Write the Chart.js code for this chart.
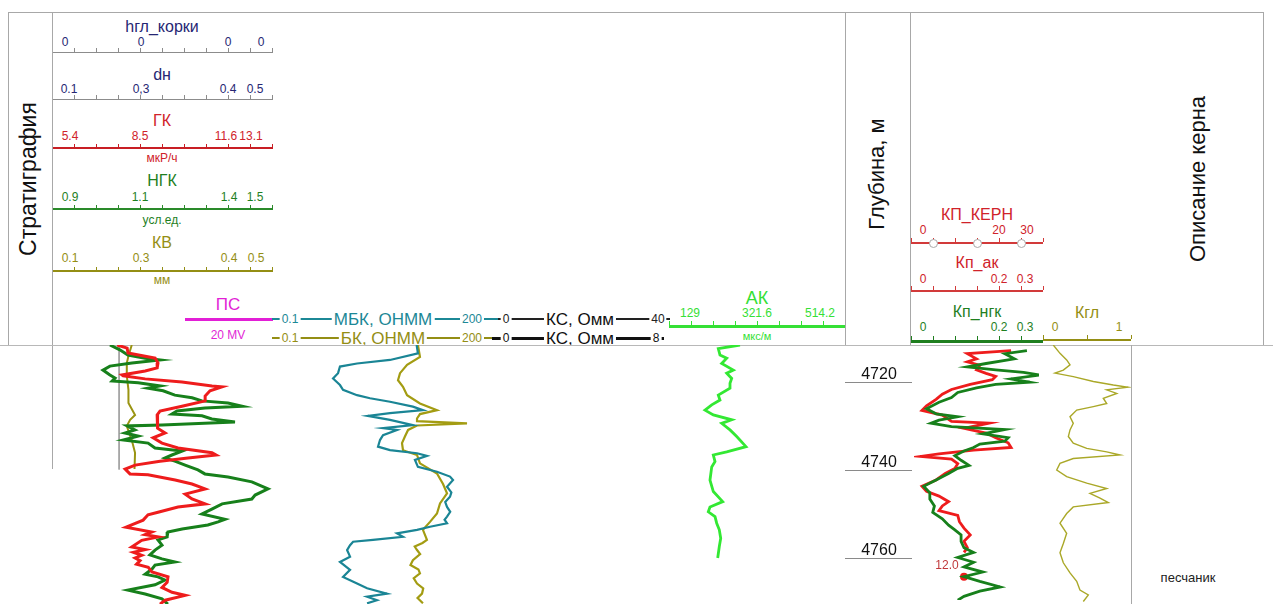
<!DOCTYPE html>
<html><head><meta charset="utf-8">
<script src="https://cdn.jsdelivr.net/npm/chart.js@4.4.1/dist/chart.umd.min.js"></script>
<style>
html,body{margin:0;padding:0;background:#fff;}
#root{position:relative;width:1273px;height:604px;overflow:hidden;font-family:"Liberation Sans",Arial,sans-serif;}
.t{position:absolute;white-space:nowrap;line-height:1;transform:translate(-50%,-50%);}
.l{position:absolute;}
canvas{position:absolute;}
</style></head><body><div id="root"></div>
<script>
// ---------------- DATA ----------------
const depthTicks = [4720, 4740, 4760];
const depthRange = [4711.5, 4770.36];

const hglLabels = ['0', '0', '0', '0'];
const dnLabels = ['0.1', '0,3', '0.4', '0.5'];
const gkLabels = ['5.4', '8.5', '11.6', '13.1'];
const ngkLabels = ['0.9', '1.1', '1.4', '1.5'];
const kvLabels = ['0.1', '0.3', '0.4', '0.5'];
const akLabels = ['129', '321.6', '514.2'];
const kernLabels = ['0', '20', '30'];
const kpLabels = ['0', '0.2', '0.3'];
const kglLabels = ['0', '1'];

const gkRange = [5.4, 13.1];
const ngkRange = [0.9, 1.5];
const kvRange = [0.1, 0.5];
const bkRange = [0.1, 200];
const akRange = [129, 514.2];
const kpRange = [0, 0.3];
const kernRange = [0, 30];
const kglRange = [0, 1];

const gkDepth = [4711.5,4712.2,4713.3,4714.5,4715.6,4716.7,4717.4,4718.3,4718.5,4719.2,4719.9,4720.8,4721.0,4721.9,4723.1,4724.2,4725.4,4726.5,4727.4,4729.2,4730.4,4731.5,4732.6,4733.8,4734.9,4736.0,4736.5,4737.2,4737.9,4738.8,4739.7,4740.8,4741.0,4742.2,4743.1,4744.2,4745.4,4746.5,4747.6,4748.3,4749.5,4750.1,4751.3,4752.9,4754.0,4754.6,4755.1,4755.9,4757.4,4758.0,4758.6,4759.3,4759.9,4760.5,4761.3,4762.0,4763.1,4764.2,4765.4,4766.6,4767.7,4768.4,4769.5,4770.4];
const gkValues = [7.68,8.03,8.06,9.01,9.11,9.08,8.66,7.85,7.89,8.66,9.95,11.0,11.35,10.93,10.76,10.76,9.95,9.18,9.08,9.11,9.08,9.36,8.94,9.25,9.81,11.0,11.14,10.16,9.18,8.31,7.96,8.13,8.76,9.71,10.30,10.76,10.06,10.30,10.76,9.81,9.11,8.76,8.59,7.99,8.89,8.66,9.12,8.54,8.19,8.66,8.25,8.54,8.31,8.48,8.36,8.77,8.90,9.46,9.43,9.25,9.60,10.06,9.36,9.18];

const ngkDepth = [4711.5,4712.6,4713.8,4714.5,4714.9,4715.6,4716.3,4717.2,4718.3,4719.0,4719.7,4720.1,4720.8,4721.3,4721.9,4722.9,4723.5,4724.2,4724.7,4725.4,4725.8,4726.5,4727.2,4727.6,4728.3,4729.0,4729.7,4729.9,4730.8,4731.5,4732.2,4733.1,4733.8,4734.9,4735.6,4736.5,4737.2,4737.9,4738.8,4739.9,4740.8,4741.5,4742.6,4744.2,4745.6,4746.5,4747.6,4748.8,4749.9,4751.1,4751.7,4752.4,4753.3,4754.0,4755.1,4755.8,4757.0,4758.1,4759.2,4760.1,4760.8,4761.5,4762.4,4763.6,4764.2,4764.9,4766.0,4767.2,4768.1,4769.2,4770.4];
const ngkValues = [1.058,1.085,1.107,1.154,1.195,1.118,1.058,1.039,1.058,1.072,1.064,1.135,1.195,1.162,1.203,1.235,1.282,1.309,1.380,1.418,1.317,1.241,1.227,1.309,1.336,1.399,1.200,1.105,1.126,1.099,1.135,1.094,1.162,1.181,1.255,1.227,1.208,1.235,1.263,1.298,1.317,1.380,1.445,1.489,1.454,1.445,1.364,1.336,1.309,1.372,1.353,1.325,1.255,1.216,1.214,1.189,1.200,1.181,1.167,1.200,1.235,1.181,1.173,1.154,1.189,1.208,1.181,1.107,1.154,1.200,1.216];

const kvDepth = [4711.5,4714.0,4715.6,4718.5,4721.7,4724.7,4727.4,4728.5,4729.9,4733.1,4736.0,4739.7];
const kvValues = [0.245,0.239,0.236,0.236,0.239,0.239,0.251,0.242,0.236,0.245,0.251,0.250];

const dnDepth = [4711.5, 4739.8];
const dnValues = [0.222, 0.222];

const mbkDepth = [4711.5,4713.4,4714.9,4715.7,4716.4,4717.9,4719.1,4720.6,4721.7,4722.9,4723.6,4724.4,4725.5,4726.3,4727.0,4727.6,4728.5,4729.7,4730.4,4730.8,4732.0,4733.1,4734.6,4735.4,4736.1,4736.7,4737.6,4739.2,4740.3,4741.4,4742.2,4743.7,4745.0,4746.0,4747.2,4748.3,4749.4,4750.5,4751.2,4752.0,4752.8,4753.5,4754.3,4755.1,4755.8,4756.2,4757.0,4758.1,4759.6,4760.8,4762.6,4764.2,4765.7,4766.8,4768.0,4768.7,4769.5,4770.2];
const mbkValues = [15.5,16.2,6.12,1.94,1.07,1.00,0.84,1.07,1.19,1.94,3.05,6.12,13.6,19.3,6.12,2.84,6.12,13.6,4.80,7.81,4.80,4.32,4.03,6.12,15.7,22.2,14.6,16.2,31.5,49.6,55.1,44.7,52.0,49.6,42.0,44.7,50.0,44.7,41.0,44.7,24.7,15.7,7.81,9.63,3.38,1.69,1.52,1.37,1.52,1.07,1.52,1.19,1.94,2.75,5.51,2.75,3.89,2.75];

const bkDepth = [4711.5,4714.2,4716.0,4717.9,4719.5,4721.0,4722.9,4724.8,4726.3,4727.2,4728.2,4728.8,4729.3,4729.8,4730.8,4732.3,4733.8,4735.4,4736.5,4738.4,4740.7,4743.1,4745.2,4747.5,4749.8,4751.7,4753.5,4755.8,4756.5,4757.3,4758.1,4759.0,4760.4,4761.5,4762.5,4763.4,4764.5,4765.7,4766.8,4768.0,4769.0,4770.2];
const bkValues = [16.2,17.4,11.1,8.68,8.09,9.63,11.1,17.4,31.5,17.4,15.7,15.7,89.7,15.7,11.5,10.3,9.30,9.63,15.7,17.4,31.5,38.9,44.7,35.0,31.5,24.7,19.3,22.2,19.0,14.5,15.7,17.5,13.6,12.5,16.5,17.4,14.0,15.7,19.5,18.7,16.0,19.3];

const akDepth = [4711.5,4712.3,4713.8,4714.5,4715.7,4717.2,4717.9,4719.1,4720.2,4721.3,4722.9,4724.0,4725.1,4726.3,4727.4,4728.5,4729.3,4730.8,4732.3,4734.6,4735.8,4736.5,4738.0,4739.2,4742.2,4744.8,4747.1,4748.3,4749.4,4750.5,4752.0,4753.5,4755.4,4757.3,4759.9];
const akValues = [284.4,236.9,240.6,255.3,244.3,269.7,255.3,266.2,262.5,262.5,236.9,240.6,222.5,207.8,226.0,266.2,244.3,262.5,277.2,297.5,255.3,226.0,229.7,222.5,218.7,226.0,246.5,218.7,215.0,229.7,233.4,239.1,242.2,239.1,235.6];

const kpNgkDepth = [4711.9,4712.6,4713.8,4714.9,4715.7,4716.4,4717.0,4717.6,4718.5,4719.3,4719.8,4720.6,4721.7,4722.9,4724.0,4725.5,4726.7,4727.4,4728.2,4728.9,4729.7,4730.4,4731.4,4732.3,4733.1,4733.8,4734.6,4735.4,4736.5,4737.6,4738.8,4739.5,4740.7,4742.2,4743.7,4745.2,4746.7,4748.3,4749.8,4751.3,4752.8,4753.9,4755.1,4756.6,4758.1,4759.2,4760.4,4761.5,4762.6,4763.8,4764.9,4766.0,4767.3,4768.3,4769.5,4770.4];
const kpNgkValues = [0.271,0.218,0.241,0.173,0.128,0.196,0.263,0.301,0.233,0.278,0.196,0.150,0.105,0.090,0.060,0.030,0.053,0.105,0.060,0.041,0.090,0.218,0.165,0.226,0.218,0.158,0.143,0.120,0.098,0.113,0.132,0.105,0.083,0.053,0.023,0.038,0.038,0.049,0.045,0.068,0.083,0.098,0.113,0.113,0.120,0.143,0.105,0.143,0.120,0.165,0.120,0.158,0.207,0.158,0.120,0.105];

const kpAkDepth = [4711.9,4712.6,4713.8,4714.5,4715.3,4716.4,4717.2,4717.9,4718.7,4719.8,4721.0,4722.1,4723.3,4724.8,4725.9,4727.0,4728.5,4728.9,4730.1,4731.2,4732.3,4733.5,4734.6,4735.2,4736.1,4736.7,4737.3,4738.4,4739.5,4740.7,4742.2,4743.7,4744.9,4746.0,4747.3,4748.3,4749.4,4750.5,4752.0,4753.5,4755.1,4756.6,4758.1,4759.2];
const kpAkValues = [0.233,0.128,0.150,0.128,0.158,0.150,0.173,0.196,0.188,0.135,0.090,0.068,0.053,0.030,0.019,0.068,0.090,0.180,0.120,0.173,0.196,0.226,0.233,0.143,0.060,0.015,0.090,0.105,0.098,0.075,0.053,0.019,0.030,0.060,0.083,0.068,0.060,0.105,0.109,0.120,0.135,0.120,0.128,0.120];

const kernDepth = [4764.9];
const kernValues = [12.0];

const kglDepth = [4711.5,4713.4,4714.9,4716.0,4717.2,4717.9,4718.7,4719.8,4720.6,4721.1,4721.7,4722.5,4723.6,4724.8,4725.5,4726.3,4727.8,4729.3,4730.8,4732.3,4733.8,4735.0,4735.8,4736.5,4737.3,4738.4,4739.9,4741.4,4742.9,4744.1,4745.2,4746.3,4747.3,4748.3,4749.8,4752.0,4754.3,4756.6,4758.7,4761.0,4763.3,4765.2,4767.2,4768.3,4769.8];
const kglValues = [0.117,0.193,0.269,0.307,0.231,0.136,0.344,0.572,0.799,0.969,0.724,0.838,0.685,0.724,0.572,0.383,0.307,0.344,0.307,0.288,0.344,0.497,0.724,0.875,0.344,0.193,0.156,0.269,0.497,0.724,0.534,0.648,0.742,0.344,0.269,0.193,0.269,0.231,0.193,0.231,0.307,0.383,0.420,0.515,0.458];

// ---------------- LAYOUT HELPERS ----------------
const root = document.getElementById('root');
const FONT = '"Liberation Sans", Arial, sans-serif';
function txt(x, y, s, size, color, opts) {
  opts = opts || {};
  const d = document.createElement('div');
  d.className = 't'; d.textContent = s;
  d.style.left = x + 'px'; d.style.top = y + 'px';
  d.style.fontSize = size + 'px'; d.style.color = color;
  if (opts.bg) { d.style.background = '#fff'; d.style.padding = '0 2px'; }
  if (opts.rot) d.style.transform = 'translate(-50%,-50%) rotate(-90deg)';
  root.appendChild(d); return d;
}
function rect(x, y, w, h, color) {
  const d = document.createElement('div'); d.className = 'l';
  Object.assign(d.style, {left: x + 'px', top: y + 'px', width: w + 'px', height: h + 'px', background: color});
  root.appendChild(d);
}
function hline(x1, x2, y, color, w) { w = w || 1; rect(x1, Math.round(y - w / 2), x2 - x1, w, color); }
function vline(x, y1, y2, color, w) { w = w || 1; rect(Math.round(x - w / 2), y1, w, y2 - y1, color); }
function ticks(x1, x2, step, y, color, h) { for (let x = x1; x <= x2 + 0.5; x += step) vline(x, y - h, y, color, 1); }

// ---------------- HEADER ----------------
const navy = '#262673', red = '#d0222a', green = '#1f7f1f', olive = '#948e14', magenta = '#e21fd6', teal = '#1c8896', akGreen = '#35e035';
const track1 = [
  {title: 'hгл_корки', labels: hglLabels, lx: [65, 141, 228, 261], c: navy, ty: 27, ly: 42, y: 52, lc: '#8c8c8c', lw: 1},
  {title: 'dн', labels: dnLabels, lx: [69, 141, 228, 255], c: navy, ty: 75, ly: 89, y: 99, lc: '#8c8c8c', lw: 1},
  {title: 'ГК', labels: gkLabels, lx: [70, 140, 226, 251], c: red, ty: 121, ly: 136, y: 148, lc: '#c81e24', lw: 2, unit: 'мкР/ч', uy: 158},
  {title: 'НГК', labels: ngkLabels, lx: [70, 140, 229, 255], c: green, ty: 181, ly: 197, y: 209, lc: '#2a8a2a', lw: 2, unit: 'усл.ед.', uy: 220},
  {title: 'КВ', labels: kvLabels, lx: [70, 141, 229, 256], c: olive, ty: 243, ly: 258, y: 271, lc: olive, lw: 2, unit: 'мм', uy: 280}
];
track1.forEach(s => {
  txt(162, s.ty, s.title, 16, s.c);
  s.labels.forEach((l, i) => txt(s.lx[i], s.ly, l, 12, s.c));
  hline(52, 273, s.y, s.lc, s.lw);
  ticks(52, 272, 22, s.y, s.lc, 4);
  if (s.unit) txt(162, s.uy, s.unit, 12, s.c);
});
txt(228, 304, 'ПС', 17, magenta);
hline(185, 273, 319, magenta, 3);
txt(228, 335, '20 MV', 12, magenta);

// resistivity rows
hline(272, 498, 319, teal, 1.5);
txt(290, 319, '0.1', 12, teal, {bg: 1});
txt(383, 319, 'МБК, ОНММ', 17, teal, {bg: 1});
txt(472, 319, '200', 12, teal, {bg: 1});
hline(498, 670, 319, '#222', 1.5);
txt(506, 319, '0', 12, '#222', {bg: 1});
txt(580, 319, 'КС, Омм', 17, '#111', {bg: 1});
txt(658, 319, '40', 12, '#222', {bg: 1});

hline(272, 492, 338, olive, 1.5);
txt(290, 338, '0.1', 12, olive, {bg: 1});
txt(383, 338, 'БК, ОНММ', 17, olive, {bg: 1});
txt(472, 338, '200', 12, olive, {bg: 1});
hline(492, 664, 338, '#111', 2.5);
txt(506, 338, '0', 12, '#111', {bg: 1});
txt(580, 338, 'КС, Омм', 17, '#111', {bg: 1});
txt(656, 338, '8', 12, '#111', {bg: 1});

// АК
txt(757, 298, 'АК', 18, akGreen);
[690, 757, 820].forEach((x, i) => txt(x, 313, akLabels[i], 12, akGreen));
hline(669, 845, 326, akGreen, 3);
ticks(669, 845, 22, 325, akGreen, 4);
txt(757, 336, 'мкс/м', 11, akGreen);

// right tracks
txt(977, 215, 'КП_КЕРН', 16, red);
[923, 999, 1027].forEach((x, i) => txt(x, 230, kernLabels[i], 12, red));
hline(910, 1043, 243, '#d23a3a', 2);
ticks(911, 1043, 22, 242, '#d23a3a', 4);
[933, 977, 1021].forEach(x => {
  const d = document.createElement('div'); d.className = 'l';
  Object.assign(d.style, {left: (x - 4) + 'px', top: '239px', width: '7px', height: '7px', borderRadius: '50%', background: '#fff', border: '1px solid #aaa'});
  root.appendChild(d);
});
txt(977, 263, 'Кп_ак', 16, red);
[923, 999, 1025].forEach((x, i) => txt(x, 279, kpLabels[i], 12, red));
hline(910, 1043, 291, '#d23a3a', 2);
ticks(911, 1043, 22, 290, '#d23a3a', 4);
txt(977, 312, 'Кп_нгк', 16, green);
[923, 999, 1025].forEach((x, i) => txt(x, 327, kpLabels[i], 12, green));
hline(910, 1043, 341, '#1f7f1f', 3);
ticks(911, 1043, 22, 340, '#1f7f1f', 4);
txt(1087, 313, 'Кгл', 16, olive);
[1055, 1119].forEach((x, i) => txt(x, 327, kglLabels[i], 12, olive));
hline(1043, 1131, 340, olive, 2);
ticks(1043, 1131, 44, 339, olive, 4);

// vertical titles
txt(28, 179, 'Стратиграфия', 23, '#111', {rot: 1});
txt(877, 174, 'Глубина, м', 22, '#111', {rot: 1});
txt(1198, 179, 'Описание керна', 22, '#111', {rot: 1});
txt(1188, 577, 'песчаник', 13, '#222');

// frame
const fc = '#a8a8a8';
hline(8, 1263, 12, fc);
vline(8, 12, 345, fc);
vline(52, 12, 469, fc);
vline(845, 12, 345, fc);
vline(910, 12, 345, fc);
vline(1263, 12, 345, fc);
hline(0, 1273, 345, '#b8b8b8');
vline(1131, 345, 604, fc);

// ---------------- CHARTS ----------------
const TOP = 345, H = 259;
function curve(depths, values, xid, color, width) {
  return {data: depths.map((d, i) => ({x: values[i], y: d})), xAxisID: xid, yAxisID: 'y', showLine: true,
    borderColor: color, backgroundColor: color, borderWidth: width, pointRadius: 0, fill: false, tension: 0};
}
function xs(range, type) { return {type: type || 'linear', axis: 'x', min: range[0], max: range[1], display: false}; }
function makeChart(left, width, datasets, xScales, plugins) {
  const c = document.createElement('canvas');
  c.width = width; c.height = H;
  Object.assign(c.style, {left: left + 'px', top: TOP + 'px', width: width + 'px', height: H + 'px'});
  root.appendChild(c);
  const scales = {y: {type: 'linear', reverse: true, min: depthRange[0], max: depthRange[1], display: false}};
  Object.assign(scales, xScales);
  return new Chart(c, {type: 'scatter', data: {datasets}, options: {
    responsive: false, animation: false, events: [], layout: {padding: 0},
    plugins: {legend: {display: false}, tooltip: {enabled: false}}, scales}, plugins: plugins || []});
}

// Track 1: ГК, НГК, КВ, dн
makeChart(52, 220, [
  curve(gkDepth, gkValues, 'gk', '#ee1c1c', 3),
  curve(ngkDepth, ngkValues, 'ngk', '#17801b', 3),
  curve(kvDepth, kvValues, 'kv', '#9a9412', 2),
  curve(dnDepth, dnValues, 'dn', '#a0a0a0', 1)
], {gk: xs(gkRange), ngk: xs(ngkRange), kv: xs(kvRange), dn: xs(kvRange)});

// Track 2: МБК, БК
makeChart(272, 218, [
  curve(mbkDepth, mbkValues, 'mbk', '#1a8595', 2.2),
  curve(bkDepth, bkValues, 'bk', '#a39c12', 2.2)
], {mbk: xs(bkRange, 'logarithmic'), bk: xs(bkRange, 'logarithmic')});

// АК
makeChart(669, 176, [curve(akDepth, akValues, 'ak', '#33e833', 2.8)], {ak: xs(akRange)});

// Depth track
makeChart(845, 67, [], {x: xs([0, 1])}, [{
  id: 'depthLabels',
  afterDraw(chart) {
    const ctx = chart.ctx, ys = chart.scales.y;
    ctx.save();
    depthTicks.forEach(d => {
      const py = Math.round(ys.getPixelForValue(d)) + 0.5;
      ctx.strokeStyle = '#8a8a8a'; ctx.lineWidth = 1;
      ctx.beginPath(); ctx.moveTo(0, py); ctx.lineTo(chart.width, py); ctx.stroke();
      ctx.fillStyle = '#111'; ctx.font = '16px ' + FONT;
      ctx.textAlign = 'center'; ctx.textBaseline = 'middle';
      ctx.fillText(String(d), 34, py - 8);
    });
    ctx.restore();
  }
}]);

// Кп track
const kern = curve(kernDepth, kernValues, 'kern', '#ee1c1c', 0);
kern.showLine = false; kern.pointRadius = 4; kern.pointBackgroundColor = '#ee1c1c'; kern.pointBorderWidth = 0;
makeChart(910, 133, [
  curve(kpNgkDepth, kpNgkValues, 'kp', '#17801b', 2.8),
  curve(kpAkDepth, kpAkValues, 'kp', '#ee1c1c', 2.8),
  kern
], {kp: xs(kpRange), kern: xs(kernRange)}, [{
  id: 'kernLabel',
  afterDatasetsDraw(chart) {
    const meta = chart.getDatasetMeta(2), ctx = chart.ctx;
    ctx.save();
    ctx.fillStyle = '#c0383a'; ctx.font = '12px ' + FONT; ctx.textAlign = 'center'; ctx.textBaseline = 'middle';
    meta.data.forEach((pt, i) => ctx.fillText(kernValues[i].toFixed(1), pt.x - 17, pt.y - 11));
    ctx.restore();
  }
}]);

// Кгл
makeChart(1043, 88, [curve(kglDepth, kglValues, 'kgl', '#aaa828', 1.4)], {kgl: xs(kglRange)});
</script></body></html>
